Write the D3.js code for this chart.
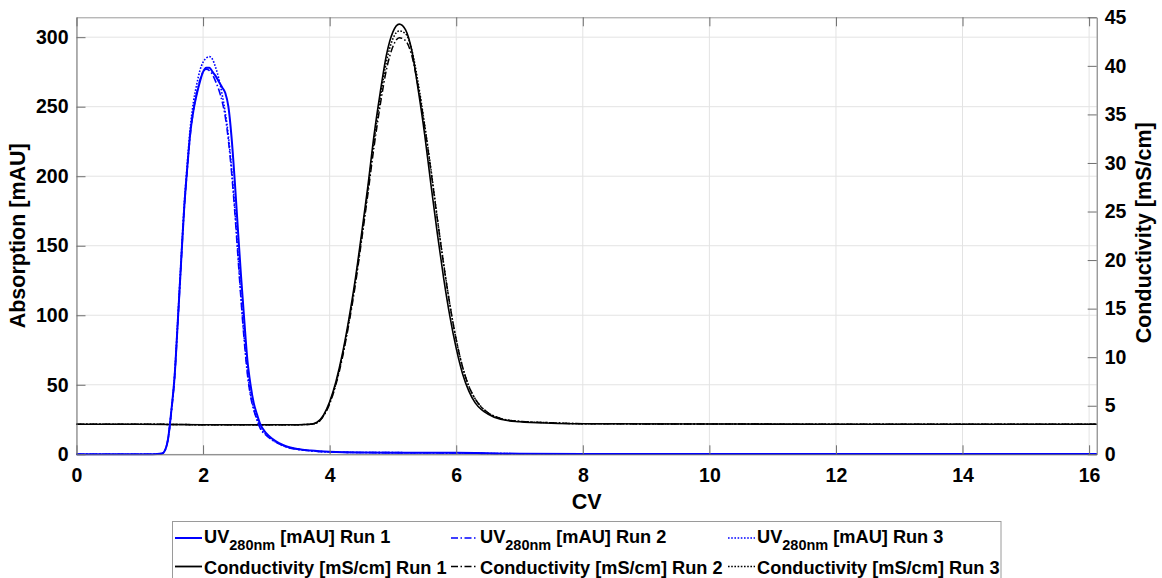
<!DOCTYPE html>
<html>
<head>
<meta charset="utf-8">
<script src="https://cdn.jsdelivr.net/npm/d3@7"></script>
<style>
body { margin: 0; background: #fff; }
text { font-family: "Liberation Sans", Arial, sans-serif; font-weight: bold; fill: #000; }
</style>
</head>
<body>
<svg id="chart" width="1162" height="578"></svg>
<script>
// column volumes (x) for the UV traces
const uvCV = [0, 1.2, 1.35, 1.4, 1.45, 1.5, 1.55, 1.6, 1.65, 1.7, 1.75, 1.8, 1.85, 1.9, 1.95, 2.0, 2.05, 2.1, 2.15, 2.2, 2.25, 2.3, 2.35, 2.4, 2.45, 2.5, 2.55, 2.6, 2.65, 2.7, 2.75, 2.8, 2.85, 2.9, 3.0, 3.1, 3.2, 3.3, 3.5, 3.7, 4.0, 4.5, 5.0, 5.5, 6.0, 6.5, 7.0, 8.0, 10, 12, 14, 16.12]
const uvRun1 = [0, 0, 0.5, 3, 12, 32, 56, 95, 136, 176, 206, 232, 248, 259, 268, 275, 278, 278, 275, 272, 268, 264, 260, 250, 228, 197, 162, 128, 97, 68, 50, 37, 29, 22, 15, 11, 8, 6, 3.8, 2.7, 1.8, 1.3, 1.2, 1.2, 1.1, 0.7, 0.4, 0.3, 0.3, 0.3, 0.2, 0.2]
const uvRun2 = [0, 0, 0.5, 3, 12, 31, 55, 94, 135, 175, 205, 231, 248, 260, 269, 275, 277, 276, 273, 268, 262, 254, 243, 226, 203, 175, 143, 111, 82, 58, 42, 32, 25, 19, 13.5, 10, 7.5, 5.5, 3.5, 2.5, 1.7, 1.3, 1.2, 1.1, 1.0, 0.6, 0.4, 0.3, 0.3, 0.2, 0.2, 0.2]
const uvRun3 = [0, 0, 0.5, 3, 12, 32, 57, 97, 138, 178, 209, 236, 254, 266, 276, 282, 285, 286, 284, 278, 270, 259, 246, 229, 206, 178, 146, 113, 84, 60, 43, 33, 25.5, 19.5, 14, 10.2, 7.6, 5.6, 3.6, 2.5, 1.7, 1.3, 1.2, 1.1, 1.0, 0.6, 0.4, 0.3, 0.3, 0.2, 0.2, 0.2]

// column volumes (x) for the conductivity traces
const condCV = [0, 1, 2, 3, 3.5, 3.7, 3.8, 3.9, 4.0, 4.1, 4.2, 4.3, 4.4, 4.5, 4.6, 4.7, 4.8, 4.9, 5.0, 5.1, 5.2, 5.3, 5.4, 5.5, 5.6, 5.7, 5.8, 5.9, 6.0, 6.1, 6.2, 6.3, 6.4, 6.5, 6.7, 7.0, 7.5, 8, 10, 12, 14, 16.12]
const condRun1 = [3.1, 3.1, 3.05, 3.05, 3.05, 3.1, 3.3, 4.0, 5.4, 7.5, 10.3, 13.8, 17.8, 22.5, 27.4, 32.8, 37.3, 41.2, 43.5, 44.3, 43.7, 41.5, 37.5, 33.0, 27.8, 22.8, 18.2, 14.2, 10.9, 8.3, 6.5, 5.3, 4.6, 4.15, 3.6, 3.35, 3.2, 3.15, 3.12, 3.1, 3.1, 3.1]
const condRun2 = [3.1, 3.1, 3.05, 3.05, 3.05, 3.1, 3.25, 3.9, 5.2, 7.2, 9.9, 13.3, 17.2, 21.8, 26.6, 31.6, 36.0, 39.7, 42.0, 42.9, 42.6, 41.0, 37.8, 33.8, 29.2, 24.3, 19.6, 15.4, 11.8, 9.0, 7.0, 5.7, 4.85, 4.3, 3.7, 3.4, 3.25, 3.15, 3.12, 3.1, 3.1, 3.1]
const condRun3 = [3.1, 3.1, 3.05, 3.05, 3.05, 3.1, 3.25, 3.95, 5.3, 7.3, 10.1, 13.5, 17.5, 22.1, 27.0, 32.2, 36.7, 40.5, 42.8, 43.6, 43.3, 41.6, 38.2, 34.0, 29.4, 24.4, 19.7, 15.4, 11.8, 9.0, 7.0, 5.7, 4.85, 4.3, 3.7, 3.4, 3.25, 3.15, 3.12, 3.1, 3.1, 3.1]

const xTicks = [0, 2, 4, 6, 8, 10, 12, 14, 16]
const uvTicks = [0, 50, 100, 150, 200, 250, 300]
const condTicks = [0, 5, 10, 15, 20, 25, 30, 35, 40, 45]
const runNames = ["Run 1", "Run 2", "Run 3"]

const margin = {top: 17.3, right: 65.3, bottom: 123.7, left: 76.5},
    width = 1162 - margin.left - margin.right,
    height = 578 - margin.top - margin.bottom

const dashes = ["none", "7,2.5,1.5,2.5", "1.6,1.6"]
const blue = "#0000ff"

const x = d3.scaleLinear().domain([0, 16.12]).range([0, width])
const yUV = d3.scaleLinear().domain([0, 314.3]).range([height, 0])
const yCond = d3.scaleLinear().domain([0, 45]).range([height, 0])

const svg = d3.select("#chart")
  .append("g")
    .attr("transform", "translate(" + margin.left + "," + margin.top + ")")

// grid
svg.append("g").selectAll("line")
    .data(xTicks)
  .enter().append("line")
    .attr("x1", d => x(d)).attr("x2", d => x(d))
    .attr("y1", 0).attr("y2", height)
    .attr("stroke", "#e3e3e3")
svg.append("g").selectAll("line")
    .data(uvTicks)
  .enter().append("line")
    .attr("x1", 0).attr("x2", width)
    .attr("y1", d => yUV(d)).attr("y2", d => yUV(d))
    .attr("stroke", "#e3e3e3")

// curves
const condSeries = [condRun1, condRun2, condRun3]
const uvSeries = [uvRun1, uvRun2, uvRun3]

condSeries.forEach(function(vals, i) {
    const line = d3.line()
        .x((d, j) => x(condCV[j]))
        .y(d => yCond(d))
        .curve(d3.curveMonotoneX)
    svg.append("path")
        .datum(vals)
        .attr("d", line)
        .attr("fill", "none")
        .attr("stroke", "#000")
        .attr("stroke-width", i === 0 ? 1.6 : 1.5)
        .attr("stroke-dasharray", dashes[i])
})

uvSeries.forEach(function(vals, i) {
    const line = d3.line()
        .x((d, j) => x(uvCV[j]))
        .y(d => yUV(d))
        .curve(d3.curveMonotoneX)
    svg.append("path")
        .datum(vals)
        .attr("d", line)
        .attr("fill", "none")
        .attr("stroke", blue)
        .attr("stroke-width", i === 0 ? 2 : 1.6)
        .attr("stroke-dasharray", dashes[i])
})

// axes (ticks point inward, matlab style)
const xAxis = svg.append("g")
    .attr("transform", "translate(0," + height + ")")
    .call(d3.axisBottom(x).tickValues(xTicks).tickSizeInner(-9).tickSizeOuter(0).tickPadding(14))
const xTop = svg.append("g")
    .call(d3.axisTop(x).tickValues(xTicks).tickSizeInner(-9).tickSizeOuter(0).tickFormat(""))
const yLeft = svg.append("g")
    .call(d3.axisLeft(yUV).tickValues(uvTicks).tickSizeInner(-9).tickSizeOuter(0).tickPadding(8))
const yRight = svg.append("g")
    .attr("transform", "translate(" + width + ",0)")
    .call(d3.axisRight(yCond).tickValues(condTicks).tickSizeInner(-9).tickSizeOuter(0).tickPadding(8))

svg.selectAll(".domain").attr("stroke", "#6e6e6e")
xTop.select(".domain").attr("stroke", "#9a9a9a")
svg.selectAll(".tick line").attr("stroke", "#6e6e6e")
svg.selectAll(".tick text")
    .style("font-size", "19.5px")
    .style("font-family", "'Liberation Sans', Arial, sans-serif")
    .style("font-weight", "bold")
    .attr("fill", "#000")

// axis titles
svg.append("text")
    .attr("x", width / 2)
    .attr("y", height + 55)
    .attr("text-anchor", "middle")
    .style("font-size", "21.5px")
    .text("CV")

svg.append("text")
    .attr("transform", "translate(" + (-52) + "," + (height / 2) + ") rotate(-90)")
    .attr("text-anchor", "middle")
    .style("font-size", "21.5px")
    .text("Absorption [mAU]")

svg.append("text")
    .attr("transform", "translate(" + (width + 54.5) + "," + (height / 2 - 3) + ") rotate(-90)")
    .attr("text-anchor", "middle")
    .style("font-size", "21.5px")
    .text("Conductivity [mS/cm]")

// legend
const root = d3.select("#chart")
root.append("rect")
    .attr("x", 172.5).attr("y", 521.5)
    .attr("width", 828.5).attr("height", 80)
    .attr("fill", "#fff")
    .attr("stroke", "#9a9a9a")

const colX = [175, 451, 728]
const rowY = [543, 573.5]

runNames.forEach(function(run, i) {
    // UV row
    root.append("line")
        .attr("x1", colX[i]).attr("x2", colX[i] + 27)
        .attr("y1", rowY[0] - 5).attr("y2", rowY[0] - 5)
        .attr("stroke", blue)
        .attr("stroke-width", i === 0 ? 2 : 1.6)
        .attr("stroke-dasharray", dashes[i])
    const t = root.append("text")
        .attr("x", colX[i] + 29)
        .attr("y", rowY[0])
        .style("font-size", "18.2px")
    t.append("tspan").text("UV")
    t.append("tspan").attr("dy", 7).style("font-size", "14.5px").text("280nm")
    t.append("tspan").attr("dy", -7).text(" [mAU] " + run)

    // conductivity row
    root.append("line")
        .attr("x1", colX[i]).attr("x2", colX[i] + 27)
        .attr("y1", rowY[1] - 7).attr("y2", rowY[1] - 7)
        .attr("stroke", "#000")
        .attr("stroke-width", i === 0 ? 1.8 : 1.4)
        .attr("stroke-dasharray", dashes[i])
    root.append("text")
        .attr("x", colX[i] + 29)
        .attr("y", rowY[1])
        .style("font-size", "18.2px")
        .text("Conductivity [mS/cm] " + run)
})
</script>
</body>
</html>
